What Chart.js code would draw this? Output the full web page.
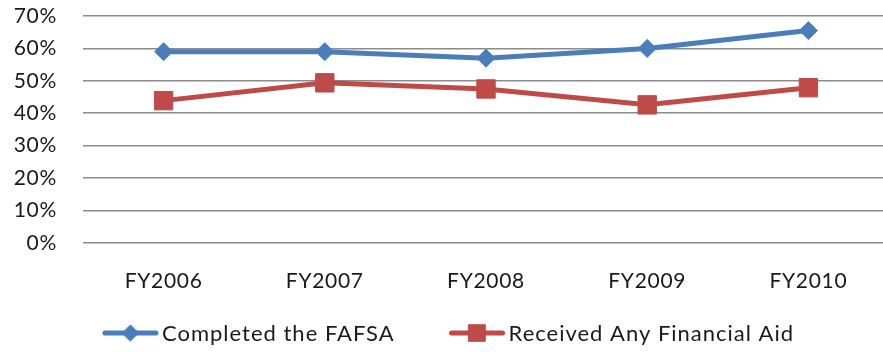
<!DOCTYPE html>
<html>
<head>
<meta charset="utf-8">
<script src="https://cdn.jsdelivr.net/npm/chart.js@4.4.1/dist/chart.umd.min.js"></script>
<style>
  html, body { margin: 0; padding: 0; background: #ffffff; overflow: hidden; }
  canvas { display: block; }
</style>
</head>
<body>
<canvas id="chart" width="891" height="352" style="width:891px;height:352px"></canvas>
<script>
// Fiscal years on the x axis
const categories = ['FY2006', 'FY2007', 'FY2008', 'FY2009', 'FY2010'];
// Share of students who completed the FAFSA
const fafsaValues = [0.590, 0.590, 0.570, 0.600, 0.655];
// Share of students who received any financial aid
const aidValues = [0.439, 0.494, 0.475, 0.426, 0.479];
// Y axis ticks (percent)
const yTicks = [0, 0.1, 0.2, 0.3, 0.4, 0.5, 0.6, 0.7];

const FONT = 'Lato, "Open Sans", sans-serif';
const TICK_SIZE = 21;
const LEGEND_SIZE = 22;
const TEXT = '#1a1a1a';
const BLUE = '#4a7ebb';
const RED = '#be4b48';

// Slightly open letter spacing for all axis text
const spacing = {
  id: 'spacing',
  beforeLayout(chart) { chart.ctx.letterSpacing = '0.7px'; },
  beforeDraw(chart) { chart.ctx.letterSpacing = '0.7px'; }
};

// Legend drawn below the axis: line sample with marker, then label
const lineLegend = {
  id: 'lineLegend',
  afterDraw(chart) {
    const ctx = chart.ctx;
    const sampleW = 55, gapText = 4, gapItem = 55;
    ctx.save();
    ctx.font = LEGEND_SIZE + 'px ' + FONT;
    ctx.letterSpacing = '1px';
    const items = chart.data.datasets.map(ds => ({
      ds, w: sampleW + gapText + ctx.measureText(ds.label).width
    }));
    const total = items.reduce((s, it) => s + it.w, 0) + gapItem * (items.length - 1);
    let x = chart.width / 2 - total / 2 + 3;
    const y = 333;
    items.forEach(it => {
      const ds = it.ds;
      ctx.strokeStyle = ds.borderColor;
      ctx.lineWidth = ds.borderWidth;
      ctx.lineCap = 'round';
      ctx.beginPath();
      ctx.moveTo(x + 2, y);
      ctx.lineTo(x + sampleW - 2, y);
      ctx.stroke();
      ctx.fillStyle = ds.pointBackgroundColor;
      ctx.strokeStyle = ds.pointBorderColor;
      ctx.lineWidth = 1;
      Chart.helpers.drawPoint(ctx, {
        pointStyle: ds.pointStyle, radius: ds.pointRadius * 0.9, borderWidth: 1
      }, x + sampleW / 2, y);
      ctx.fillStyle = TEXT;
      ctx.textBaseline = 'middle';
      ctx.textAlign = 'left';
      ctx.fillText(ds.label, x + sampleW + gapText, y + 1);
      x += it.w + gapItem;
    });
    ctx.restore();
  }
};

new Chart(document.getElementById('chart'), {
  type: 'line',
  data: {
    labels: categories,
    datasets: [
      {
        label: 'Completed the FAFSA',
        data: fafsaValues,
        borderColor: BLUE,
        backgroundColor: BLUE,
        pointBackgroundColor: BLUE,
        pointBorderColor: BLUE,
        borderWidth: 5,
        pointStyle: 'rectRot',
        pointRadius: 9,
        pointBorderWidth: 1,
        tension: 0
      },
      {
        label: 'Received Any Financial Aid',
        data: aidValues,
        borderColor: RED,
        backgroundColor: RED,
        pointBackgroundColor: RED,
        pointBorderColor: RED,
        borderWidth: 5,
        pointStyle: 'rect',
        pointRadius: 13,
        pointBorderWidth: 1,
        tension: 0
      }
    ]
  },
  options: {
    responsive: false,
    animation: false,
    devicePixelRatio: 1,
    layout: { autoPadding: false, padding: { top: 16, right: 2, bottom: 0, left: 0 } },
    plugins: {
      legend: { display: false },
      tooltip: { enabled: false }
    },
    scales: {
      x: {
        offset: true,
        grid: { display: false, drawTicks: false },
        border: { display: false },
        ticks: {
          color: TEXT,
          font: { family: FONT, size: TICK_SIZE },
          padding: 26
        },
        afterFit(scale) {
          scale.height = 109;
          scale.paddingLeft = 0;
          scale.paddingRight = 0;
        }
      },
      y: {
        min: 0,
        max: 0.7,
        afterBuildTicks(scale) { scale.ticks = yTicks.map(v => ({ value: v })); },
        grid: { color: '#8c8c8c', lineWidth: 1.6, drawTicks: false },
        border: { display: false },
        ticks: {
          color: TEXT,
          font: { family: FONT, size: TICK_SIZE },
          padding: 26,
          callback: v => Math.round(v * 100) + '%'
        },
        afterFit(scale) {
          scale.width = 83;
          scale.paddingTop = 0;
          scale.paddingBottom = 0;
        }
      }
    }
  },
  plugins: [spacing, lineLegend]
});
</script>
</body>
</html>
